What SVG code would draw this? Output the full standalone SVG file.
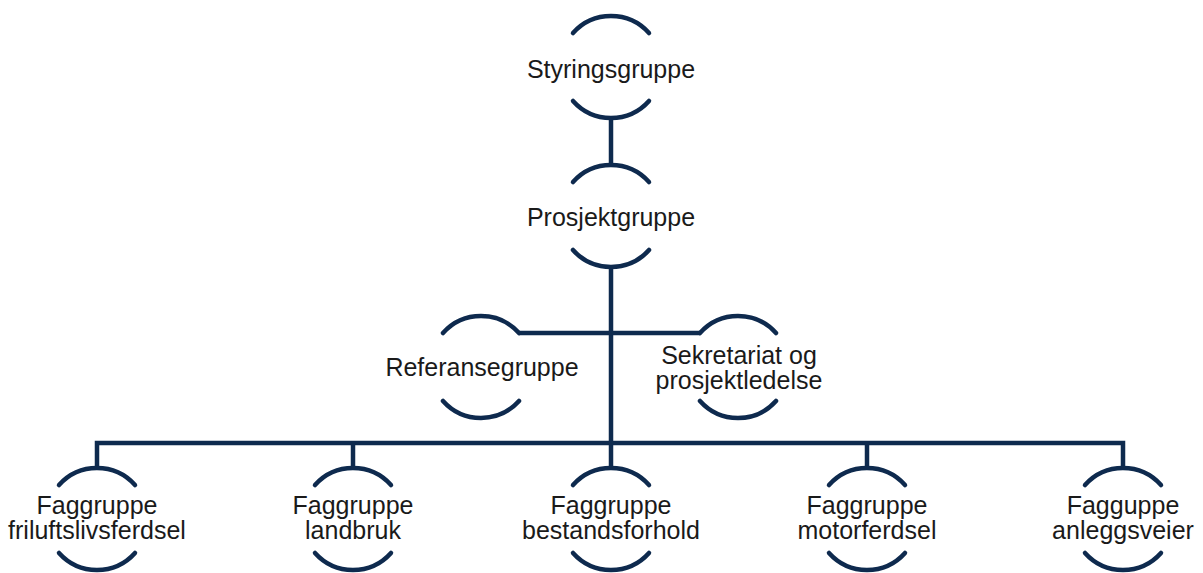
<svg xmlns="http://www.w3.org/2000/svg" xmlns:xlink="http://www.w3.org/1999/xlink" width="1203" height="573" viewBox="0 0 1203 573">
<style>
.arc{fill:none;stroke:#0e2a4e;stroke-width:4.5;stroke-linecap:round}
.con{fill:none;stroke:#0e2a4e;stroke-width:4.5;stroke-linecap:butt;stroke-linejoin:miter}
.t{font-family:"Liberation Sans",Arial,sans-serif;font-size:25px;fill:#1a1a1a;text-anchor:middle}
</style>
<defs>
<g id="ring">
<path class="arc" d="M-38,-34 A51,51 0 0 1 38,-34"/>
<path class="arc" d="M-38,34 A51,51 0 0 0 38,34"/>
</g>
</defs>
<rect width="1203" height="573" fill="#ffffff"/>
<g id="connectors">
<path class="con" d="M611,118 V165"/>
<path class="con" d="M611,267 V443"/>
<path class="con" d="M519,333 H700"/>
<path class="con" d="M97,468 V443 H1123 V468"/>
<path class="con" d="M353,443 V468"/>
<path class="con" d="M611,443 V468"/>
<path class="con" d="M867,443 V468"/>
</g>
<g id="styringsgruppe">
<use xlink:href="#ring" href="#ring" x="611" y="67"/>
<text class="t" x="611" y="78">Styringsgruppe</text>
</g>
<g id="prosjektgruppe">
<use xlink:href="#ring" href="#ring" x="611" y="216"/>
<text class="t" x="611" y="226">Prosjektgruppe</text>
</g>
<g id="referansegruppe">
<use xlink:href="#ring" href="#ring" x="481" y="367"/>
<text class="t" x="482" y="376">Referansegruppe</text>
</g>
<g id="sekretariat">
<use xlink:href="#ring" href="#ring" x="738" y="367"/>
<text class="t" x="739" y="364">Sekretariat og</text>
<text class="t" x="739" y="389">prosjektledelse</text>
</g>
<g id="fg-friluftsliv">
<use xlink:href="#ring" href="#ring" x="97" y="519"/>
<text class="t" x="97" y="514">Faggruppe</text>
<text class="t" x="97" y="539">friluftslivsferdsel</text>
</g>
<g id="fg-landbruk">
<use xlink:href="#ring" href="#ring" x="353" y="519"/>
<text class="t" x="353" y="514">Faggruppe</text>
<text class="t" x="353" y="539">landbruk</text>
</g>
<g id="fg-bestandsforhold">
<use xlink:href="#ring" href="#ring" x="611" y="519"/>
<text class="t" x="611" y="514">Faggruppe</text>
<text class="t" x="611" y="539">bestandsforhold</text>
</g>
<g id="fg-motorferdsel">
<use xlink:href="#ring" href="#ring" x="867" y="519"/>
<text class="t" x="867" y="514">Faggruppe</text>
<text class="t" x="867" y="539">motorferdsel</text>
</g>
<g id="fg-anleggsveier">
<use xlink:href="#ring" href="#ring" x="1123" y="519"/>
<text class="t" x="1123" y="514">Fagguppe</text>
<text class="t" x="1123" y="539">anleggsveier</text>
</g>
</svg>
